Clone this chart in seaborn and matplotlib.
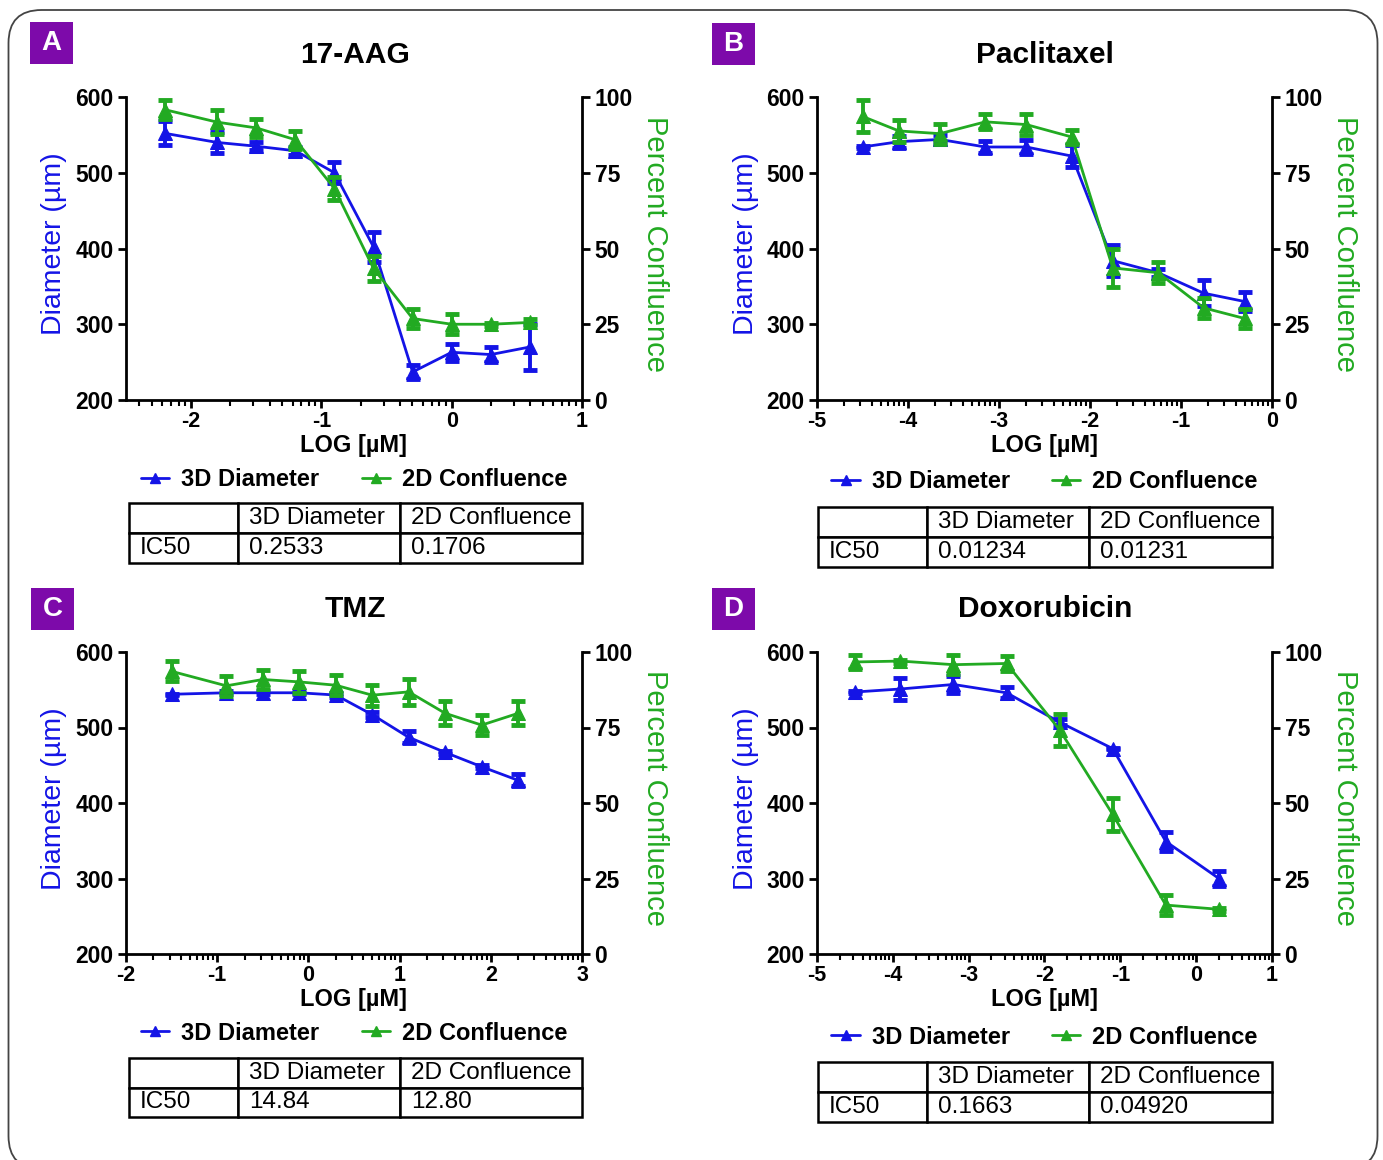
import numpy as np
import matplotlib
matplotlib.use("Agg")
import matplotlib.pyplot as plt
import seaborn as sns
from matplotlib.lines import Line2D
from matplotlib.patches import Rectangle, FancyBboxPatch

# ---------------- data ----------------
titles = ["17-AAG", "Paclitaxel", "TMZ", "Doxorubicin"]
panel_letters = ["A", "B", "C", "D"]

xA = [-2.2, -1.8, -1.5, -1.2, -0.9, -0.6, -0.3, 0.0, 0.3, 0.6]
diamA = [552, 540, 535, 529, 500, 402, 237, 263, 260, 270]
diamA_err = [16, 14, 5, 5, 14, 20, 9, 11, 10, 30]
confA = [95.8, 91.7, 89.8, 85.9, 69.8, 43.4, 26.9, 25.0, 25.0, 25.6]
confA_err = [3.2, 4.0, 3.1, 3.0, 3.7, 4.1, 3.1, 3.3, 0.5, 1.0]

xB = [-4.5, -4.1, -3.65, -3.15, -2.7, -2.2, -1.75, -1.25, -0.75, -0.3]
diamB = [534, 541, 544, 534, 534, 522, 384, 368, 341, 330]
diamB_err = [1, 8, 6, 8, 9, 15, 20, 5, 17, 13]
confB = [93.6, 88.8, 87.9, 91.8, 90.9, 86.8, 43.6, 42.0, 30.4, 26.9]
confB_err = [5.3, 3.5, 3.3, 2.5, 3.6, 2.3, 6.2, 3.5, 3.3, 3.0]

xC = [-1.5, -0.9, -0.5, -0.1, 0.3, 0.7, 1.1, 1.5, 1.9, 2.3]
diamC = [544, 546, 546, 546, 543, 517, 487, 467, 448, 430]
diamC_err = [1, 2, 2, 2, 3, 3, 8, 2, 2, 8]
confC = [93.6, 88.8, 90.9, 90.1, 89.0, 85.7, 86.8, 79.7, 75.8, 79.7]
confC_err = [3.3, 3.3, 3.3, 3.7, 3.3, 3.5, 4.4, 4.0, 3.3, 4.0]

xD = [-4.5, -3.9, -3.2, -2.5, -1.8, -1.1, -0.4, 0.3]
diamD = [547, 551, 557, 546, 507, 472, 349, 300]
diamD_err = [1, 14, 11, 7, 4, 1, 12, 10]
confD = [96.7, 97.0, 95.8, 96.2, 74.2, 46.2, 16.2, 14.8]
confD_err = [2.3, 0.5, 3.1, 2.4, 5.3, 5.4, 3.3, 0.5]

xlims = [(-2.5, 1), (-5, 0), (-2, 3), (-5, 1)]
xticks = [[-2, -1, 0, 1], [-5, -4, -3, -2, -1, 0], [-2, -1, 0, 1, 2, 3], [-5, -4, -3, -2, -1, 0, 1]]

ic50_labels = ["", "3D Diameter", "2D Confluence"]
ic50_3d = ["0.2533", "0.01234", "14.84", "0.1663"]
ic50_2d = ["0.1706", "0.01231", "12.80", "0.04920"]

series_names = ["3D Diameter", "2D Confluence"]
diam_ticks = [200, 300, 400, 500, 600]
conf_ticks = [0, 25, 50, 75, 100]

# ---------------- style ----------------
sns.set_style("ticks")
plt.rcParams["font.family"] = ["Liberation Sans", "DejaVu Sans"]
for key in ["text.color", "axes.labelcolor", "xtick.color", "ytick.color", "axes.edgecolor"]:
    plt.rcParams[key] = "black"

BLUE = "#1414E6"
GREEN = "#22AA22"
PURPLE = "#7D0AAA"

W, H = 1383, 1160
fig = plt.figure(figsize=(W / 100, H / 100), dpi=100)


def fx(x):
    return x / W


def fy(y):
    return 1 - y / H


# rounded outer frame
frame = FancyBboxPatch((0.085, -0.09), 13.69, 11.59,
                       boxstyle="round,pad=0,rounding_size=0.33",
                       transform=fig.dpi_scale_trans, facecolor="none",
                       edgecolor="#444444", linewidth=1.3)
fig.add_artist(frame)

# axes placements (pixels: left, top, right, bottom)
boxes = [(126, 97, 582, 400), (817, 97, 1272, 400),
         (126, 652, 582, 954), (817, 652, 1272, 954)]
title_pos = [(355, 55), (1045, 55), (355, 609), (1045, 609)]
letter_boxes = [(30, 22), (712, 23), (31, 588), (712, 588)]
legend_y = [480, 482, 1033, 1037]
table_y = [(503, 563), (507, 567), (1058, 1117), (1062, 1122)]
table_x = [(129, 582), (818, 1272), (129, 582), (818, 1272)]

xs = [xA, xB, xC, xD]
diams = [diamA, diamB, diamC, diamD]
diam_errs = [diamA_err, diamB_err, diamC_err, diamD_err]
confs = [confA, confB, confC, confD]
conf_errs = [confA_err, confB_err, confC_err, confD_err]

for i in range(4):
    l, t, r, b = boxes[i]
    ax = fig.add_axes([fx(l), fy(b), (r - l) / W, (b - t) / H])
    ax2 = ax.twinx()
    ax.set_facecolor("none")

    # errorbars
    ax.errorbar(xs[i], diams[i], yerr=diam_errs[i], fmt="none", ecolor=BLUE,
                elinewidth=2.8, capsize=5, capthick=3.5, zorder=3)
    ax2.errorbar(xs[i], confs[i], yerr=conf_errs[i], fmt="none", ecolor=GREEN,
                 elinewidth=2.8, capsize=5, capthick=3.5, zorder=3)
    sns.lineplot(x=xs[i], y=diams[i], ax=ax, color=BLUE, marker="^",
                 markersize=10, markeredgecolor=BLUE, linewidth=2, legend=False,
                 zorder=4)
    sns.lineplot(x=xs[i], y=confs[i], ax=ax2, color=GREEN, marker="^",
                 markersize=10, markeredgecolor=GREEN, linewidth=2, legend=False,
                 zorder=4)

    ax.set_xlim(*xlims[i])
    ax.set_ylim(200, 600)
    ax2.set_ylim(0, 100)
    ax.set_yticks(diam_ticks)
    ax2.set_yticks(conf_ticks)
    ax.set_xticks(xticks[i])
    ax.set_xticklabels([str(v) for v in xticks[i]])
    lo, hi = xlims[i]
    minors = [n + np.log10(k) for n in range(int(np.floor(lo)) - 1, int(np.ceil(hi)) + 1)
              for k in range(2, 10)]
    minors = [m for m in minors if lo < m < hi]
    ax.set_xticks(minors, minor=True)

    for a in (ax, ax2):
        a.spines["top"].set_visible(False)
        for s in a.spines.values():
            s.set_linewidth(2)
            s.set_color("black")
        a.tick_params(axis="y", which="major", length=6, width=2,
                      labelsize=16.5, pad=3, colors="black")
        a.tick_params(axis="x", which="major", length=6, width=2,
                      labelsize=15.5, pad=2, colors="black")
        a.tick_params(axis="x", which="minor", length=4, width=1.5, colors="black")
        for lab in a.get_xticklabels() + a.get_yticklabels():
            lab.set_fontweight("bold")
    ax.spines["right"].set_visible(False)
    ax2.spines["left"].set_visible(False)
    ax2.spines["bottom"].set_visible(False)
    ax.set_xlabel("")
    ax.set_ylabel("")
    ax2.set_ylabel("")

    ax.text(-0.157, 0.515, "Diameter (µm)", transform=ax.transAxes, rotation=90,
            ha="center", va="center", fontsize=20.5, color=BLUE)
    ax.text(1.16, 0.515, "Percent Confluence", transform=ax.transAxes,
            rotation=-90, ha="center", va="center", fontsize=21, color=GREEN)
    ax.text(0.5, -0.15, "LOG [µM]", transform=ax.transAxes, ha="center",
            va="center", fontsize=17, fontweight="bold")

    # title
    tx, ty = title_pos[i]
    fig.text(fx(tx), fy(ty), titles[i], ha="center", va="center", fontsize=21.5,
             fontweight="bold")

    # panel letter
    bx, by = letter_boxes[i]
    fig.add_artist(Rectangle((fx(bx), fy(by + 42)), 43 / W, 42 / H,
                             transform=fig.transFigure, facecolor=PURPLE,
                             edgecolor="none"))
    fig.text(fx(bx + 21.5), fy(by + 21), panel_letters[i], ha="center",
             va="center", fontsize=20, fontweight="bold", color="white")

    # legend
    handles = [Line2D([], [], color=BLUE, marker="^", markersize=7, linewidth=2),
               Line2D([], [], color=GREEN, marker="^", markersize=7, linewidth=2)]
    ly = (b - legend_y[i]) / (b - t)
    ax.legend(handles, series_names, loc="center", bbox_to_anchor=(0.5, ly),
              ncol=2, frameon=False, prop={"size": 17, "weight": "bold"},
              handlelength=1.2, handletextpad=0.5, columnspacing=1.8,
              borderaxespad=0)

    # IC50 table
    tx0, tx1 = table_x[i]
    ty0, ty1 = table_y[i]
    colw_px = [109, 162, tx1 - tx0 - 271]
    tw = tx1 - tx0
    bbox = [(tx0 - l) / (r - l), (b - ty1) / (b - t), tw / (r - l), (ty1 - ty0) / (b - t)]
    tbl = ax.table(cellText=[ic50_labels, ["IC50", ic50_3d[i], ic50_2d[i]]],
                   cellLoc="left", colWidths=[c / tw for c in colw_px], bbox=bbox)
    tbl.auto_set_font_size(False)
    tbl.set_fontsize(17.5)
    tbl.set_clip_on(False)
    for (row, col), cell in tbl.get_celld().items():
        cell.set_linewidth(1.8)
        cell.set_edgecolor("black")
        cell.PAD = 11 / colw_px[col]
        cell.set_clip_on(False)
        cell.get_text().set_color("black")

fig.savefig("out.png", dpi=100)
